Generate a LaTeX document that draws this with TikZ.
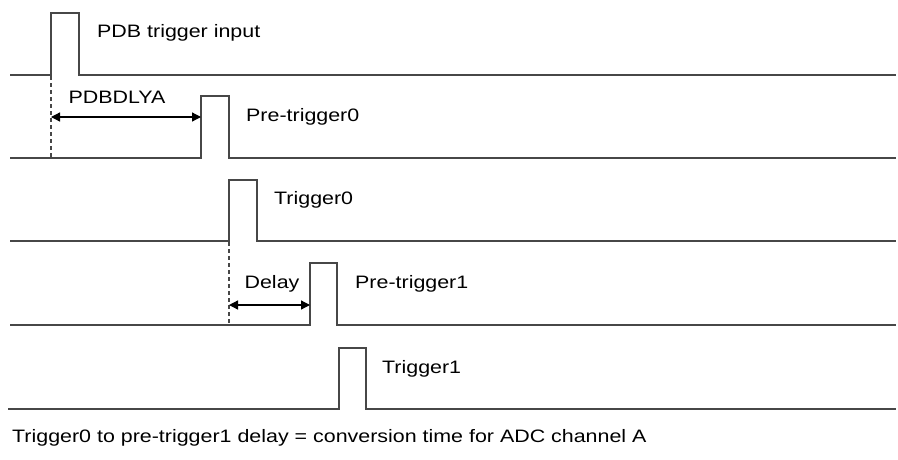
\documentclass[tikz,border=0pt]{standalone}
\usepackage{fontspec}
\setmainfont{Liberation Sans}
\usetikzlibrary{arrows.meta}
\newcommand{\wtxt}[1]{\scalebox{1.19}[1]{#1}}
\begin{document}
\begin{tikzpicture}[x=1pt,y=-1pt,
  sig/.style={draw=black!72,line width=1.4pt},
  lbl/.style={anchor=west,inner sep=0pt,font=\fontsize{18}{18}\selectfont},
  clbl/.style={anchor=center,inner sep=0pt,font=\fontsize{18}{18}\selectfont},
  dim/.style={{Triangle[length=9pt,width=9pt]}-{Triangle[length=9pt,width=9pt]},line width=1.3pt,draw=black},
  guide/.style={dash pattern=on 4pt off 3pt,line width=1.2pt,draw=black!72}]
\useasboundingbox (0,0) rectangle (898,459);
% signals
\draw[sig] (10,75) -- (51,75) -- (51,13) -- (79,13) -- (79,75) -- (896,75);
\draw[sig] (10,158) -- (201,158) -- (201,96) -- (229,96) -- (229,158) -- (896,158);
\draw[sig] (10,241) -- (229,241) -- (229,180) -- (257,180) -- (257,241) -- (896,241);
\draw[sig] (10,325) -- (310,325) -- (310,263) -- (337,263) -- (337,325) -- (896,325);
\draw[sig] (8,409) -- (339,409) -- (339,348) -- (366,348) -- (366,409) -- (896,409);
% guides
\coordinate (g1t) at (51,76);
\coordinate (g1b) at (51,158);
\coordinate (g2t) at (229,242);
\coordinate (g2b) at (229,325);
\draw[guide] (g1t) -- (g1b);
\draw[guide] (g2t) -- (g2b);
% dimension arrows
\coordinate (a1l) at (51,117);
\coordinate (a1r) at (201,117);
\coordinate (a2l) at (229,305);
\coordinate (a2r) at (310,305);
\draw[dim] (a1l) -- (a1r);
\draw[dim] (a2l) -- (a2r);
% labels
\node[lbl] (pdbin) at (97,33) {\wtxt{PDB trigger input}};
\node[clbl] (pdbdly) at (117,97) {\wtxt{PDBDLYA}};
\node[lbl] (pre0) at (246,117) {\wtxt{Pre-trigger0}};
\node[lbl] (trg0) at (274,200) {\wtxt{Trigger0}};
\node[clbl] (dly) at (272,284) {\wtxt{Delay}};
\node[lbl] (pre1) at (355,284) {\wtxt{Pre-trigger1}};
\node[lbl] (trg1) at (382,369) {\wtxt{Trigger1}};
\node[lbl] (note) at (12,438) {\wtxt{Trigger0 to pre-trigger1 delay = conversion time for ADC channel A}};
\end{tikzpicture}
\end{document}
